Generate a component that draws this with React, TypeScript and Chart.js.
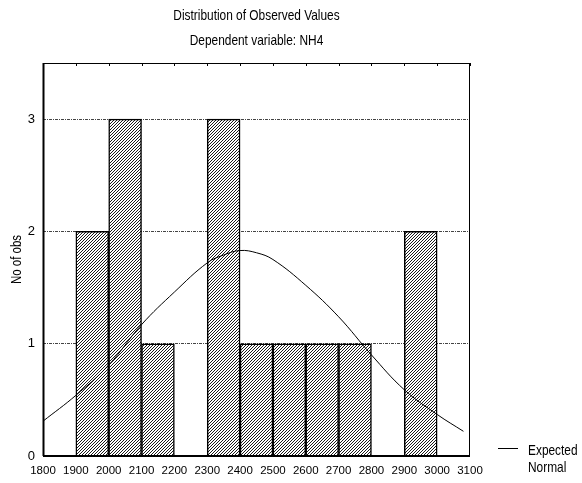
import React, { useEffect, useRef } from 'react';
import { Chart, registerables } from 'chart.js';

Chart.register(...registerables);

// ---- data ----
const binStarts = [1800, 1900, 2000, 2100, 2200, 2300, 2400, 2500, 2600, 2700, 2800, 2900, 3000];
const binWidth = 100;
const counts = [0, 2, 3, 1, 0, 3, 1, 1, 1, 1, 0, 2, 0];
const curveX = [1800, 1900, 2000, 2100, 2200, 2300, 2350, 2400, 2450, 2500, 2600, 2700, 2800, 2900, 3000, 3080];
const curveY = [0.31, 0.54, 0.81, 1.17, 1.46, 1.72, 1.79, 1.83, 1.81, 1.75, 1.52, 1.24, 0.9, 0.59, 0.37, 0.22];
const xTicks = [1800, 1900, 2000, 2100, 2200, 2300, 2400, 2500, 2600, 2700, 2800, 2900, 3000, 3100];
const yTicks = [0, 1, 2, 3];
const titleText = 'Distribution of Observed Values';
const subtitleText = 'Dependent variable: NH4';
const yAxisTitle = 'No of obs';
const legendLines = ['Expected', 'Normal'];

const FF = "'Liberation Sans', Arial, sans-serif";
const NARROW = 0.82;

function makePattern(ctx: CanvasRenderingContext2D) {
  const c = document.createElement('canvas');
  c.width = 3;
  c.height = 3;
  const p = c.getContext('2d')!;
  p.fillStyle = '#ffffff';
  p.fillRect(0, 0, 3, 3);
  p.fillStyle = '#1a1a1a';
  p.fillRect(0, 2, 1, 1);
  p.fillRect(1, 1, 1, 1);
  p.fillRect(2, 0, 1, 1);
  return ctx.createPattern(c, 'repeat');
}

function narrowText(ctx: CanvasRenderingContext2D, text: string, x: number, y: number, align: CanvasTextAlign) {
  ctx.save();
  ctx.translate(x, y);
  ctx.scale(NARROW, 1);
  ctx.textAlign = align;
  ctx.fillText(text, 0, 0);
  ctx.restore();
}

const decorPlugin = {
  id: 'decor',
  afterDraw(chart: any) {
    const ctx: CanvasRenderingContext2D = chart.ctx;
    const a = chart.chartArea;
    const xs = chart.scales.x;
    ctx.save();
    // frame
    ctx.strokeStyle = '#000';
    ctx.lineWidth = 1;
    ctx.strokeRect(a.left + 0.5, a.top + 0.5, a.right - a.left - 1, a.bottom - a.top);
    ctx.lineWidth = 2;
    ctx.beginPath();
    ctx.moveTo(a.left, a.bottom);
    ctx.lineTo(a.right, a.bottom);
    ctx.moveTo(a.left + 0.5, a.top);
    ctx.lineTo(a.left + 0.5, a.bottom);
    ctx.stroke();
    // top inward ticks
    ctx.lineWidth = 1;
    ctx.beginPath();
    xTicks.forEach((v) => {
      const px = Math.round(xs.getPixelForValue(v)) + 0.5;
      ctx.moveTo(px, a.top);
      ctx.lineTo(px, a.top + 3);
    });
    ctx.stroke();
    // titles
    ctx.fillStyle = '#000';
    ctx.textBaseline = 'middle';
    const cx = (a.left + a.right) / 2;
    ctx.font = `14.5px ${FF}`;
    narrowText(ctx, titleText, cx, 16, 'center');
    narrowText(ctx, subtitleText, cx, 41, 'center');
    // y axis title
    ctx.save();
    ctx.translate(17, (a.top + a.bottom) / 2);
    ctx.rotate(-Math.PI / 2);
    ctx.font = `14px ${FF}`;
    narrowText(ctx, yAxisTitle, 0, 0, 'center');
    ctx.restore();
    // legend
    ctx.lineWidth = 1;
    ctx.beginPath();
    ctx.moveTo(498, 448.5);
    ctx.lineTo(518, 448.5);
    ctx.stroke();
    ctx.font = `14.5px ${FF}`;
    narrowText(ctx, legendLines[0], 528, 451, 'left');
    narrowText(ctx, legendLines[1], 528, 468, 'left');
    ctx.restore();
  },
};

export default function App() {
  const ref = useRef<HTMLCanvasElement>(null);
  useEffect(() => {
    document.body.style.margin = '0';
    const canvas = ref.current!;
    const ctx = canvas.getContext('2d')!;
    const pattern = makePattern(ctx);
    const chart = new Chart(ctx, {
      type: 'bar',
      data: {
        datasets: [
          {
            type: 'line',
            data: curveX.map((x, i) => ({ x, y: curveY[i] })),
            borderColor: '#000',
            borderWidth: 1,
            pointRadius: 0,
            tension: 0.4,
            fill: false,
            order: 0,
          } as any,
          {
            type: 'bar',
            data: binStarts.map((s, i) => ({ x: s + binWidth / 2, y: counts[i] })),
            backgroundColor: pattern as any,
            borderColor: '#000',
            borderWidth: 1.5,
            barPercentage: 1,
            categoryPercentage: 1,
            order: 1,
          } as any,
        ],
      },
      options: {
        responsive: false,
        animation: false,
        layout: { padding: { top: 63, right: 112, left: 0, bottom: 0 } },
        plugins: { legend: { display: false }, title: { display: false }, tooltip: { enabled: false } },
        scales: {
          x: {
            type: 'linear',
            min: 1800,
            max: 3100,
            offset: false,
            afterBuildTicks: (s: any) => {
              s.ticks = xTicks.map((v) => ({ value: v }));
            },
            afterFit: (s: any) => {
              s.height = 27;
            },
            grid: { display: false, drawTicks: false },
            border: { display: false },
            ticks: {
              autoSkip: false,
              maxRotation: 0,
              padding: 8,
              color: '#000',
              font: { family: FF, size: 11.5 },
              callback: (v: any) => String(v),
            },
          },
          y: {
            type: 'linear',
            min: 0,
            max: 3.5,
            afterBuildTicks: (s: any) => {
              s.ticks = yTicks.map((v) => ({ value: v }));
            },
            afterFit: (s: any) => {
              s.width = 43;
            },
            grid: {
              drawTicks: false,
              color: (c: any) => (c.tick && c.tick.value === 0 ? 'rgba(0,0,0,0)' : '#444'),
              lineWidth: 1,
            },
            border: { display: false, dash: [3, 1, 1, 1] },
            ticks: {
              padding: 8,
              color: '#000',
              font: { family: FF, size: 13 },
              callback: (v: any) => String(v),
            },
          },
        },
      },
      plugins: [decorPlugin],
    });
    return () => chart.destroy();
  }, []);
  return (
    <div style={{ position: 'absolute', left: 0, top: 0, width: 582, height: 483 }}>
      <canvas ref={ref} width={582} height={483} style={{ width: 582, height: 483 }} />
    </div>
  );
}
